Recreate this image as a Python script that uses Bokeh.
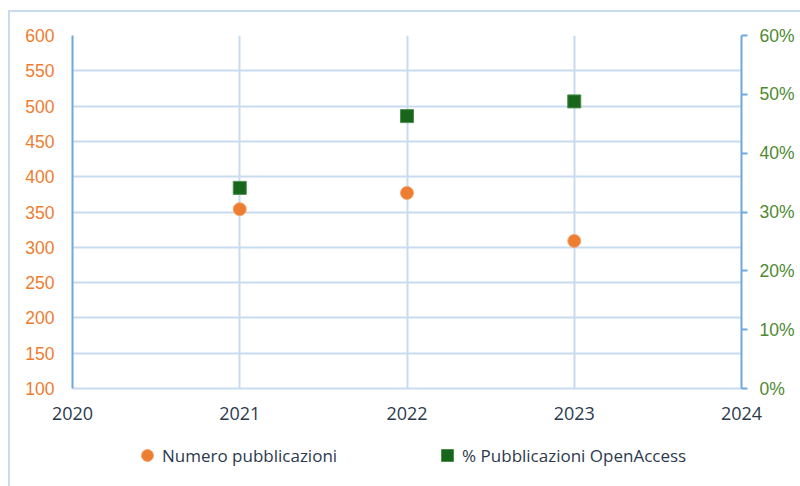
from bokeh.plotting import figure
from bokeh.layouts import column
from bokeh.models import (Range1d, LinearAxis, FixedTicker, NumeralTickFormatter,
                          Legend, LegendItem, ColumnDataSource)
from bokeh.embed import file_html
from bokeh.resources import INLINE

# ---- data ----
years = [2021, 2022, 2023]
pubblicazioni = [354, 377, 309]
pct_openaccess = [0.341, 0.463, 0.488]
x_ticks = [2020, 2021, 2022, 2023, 2024]
left_ticks = [100, 150, 200, 250, 300, 350, 400, 450, 500, 550, 600]
right_ticks = [0.0, 0.1, 0.2, 0.3, 0.4, 0.5, 0.6]
label_pubs = "Numero pubblicazioni"
label_pct = "% Pubblicazioni OpenAccess"

ORANGE = "#ed7d31"
GREEN = "#17661c"
GRID = "#c9dbef"
AXIS_BLUE = "#6fa8dc"
TEXT_DARK = "#2c3a4d"
GREEN_TEXT = "#4e8a32"

src = ColumnDataSource(dict(year=years, pubs=pubblicazioni, pct=pct_openaccess))

p = figure(width=790, height=411, output_backend="svg", toolbar_location=None,
           x_range=Range1d(x_ticks[0], x_ticks[-1]),
           y_range=Range1d(left_ticks[0], left_ticks[-1]),
           min_border_left=62, min_border_right=59, min_border_top=23, min_border_bottom=35,
           background_fill_color="white", border_fill_color="white",
           outline_line_color=None)
p.extra_y_ranges = {"pct": Range1d(right_ticks[0], right_ticks[-1])}

# grids
p.xgrid.ticker = FixedTicker(ticks=x_ticks)
p.ygrid.ticker = FixedTicker(ticks=left_ticks)
for g in (p.xgrid, p.ygrid):
    g.grid_line_color = GRID
    g.grid_line_width = 2

# bottom axis
xa = p.xaxis[0]
xa.ticker = FixedTicker(ticks=x_ticks)
xa.axis_line_color = GRID
xa.axis_line_width = 2
xa.major_tick_line_color = None
xa.minor_tick_line_color = None
xa.major_label_text_color = TEXT_DARK
xa.major_label_text_font = "Open Sans"
xa.major_label_text_font_size = "18px"
xa.major_label_standoff = 12

# left axis
ya = p.yaxis[0]
ya.ticker = FixedTicker(ticks=left_ticks)
ya.axis_line_color = AXIS_BLUE
ya.axis_line_width = 2
ya.major_tick_line_color = None
ya.minor_tick_line_color = None
ya.major_label_text_color = ORANGE
ya.major_label_text_font = "Liberation Sans"
ya.major_label_text_font_size = "17.5px"
ya.major_label_standoff = 12

# right axis
ra = LinearAxis(y_range_name="pct", ticker=FixedTicker(ticks=right_ticks),
                formatter=NumeralTickFormatter(format="0%"))
ra.axis_line_color = AXIS_BLUE
ra.axis_line_width = 2
ra.major_tick_line_color = AXIS_BLUE
ra.major_tick_line_width = 2
ra.major_tick_out = 6
ra.major_tick_in = 0
ra.minor_tick_line_color = None
ra.major_label_text_color = GREEN_TEXT
ra.major_label_text_font = "Liberation Sans"
ra.major_label_text_font_size = "17.5px"
ra.major_label_standoff = 12
p.add_layout(ra, "right")

p.scatter("year", "pubs", source=src, marker="circle", size=13,
          fill_color=ORANGE, line_color="#f5a46e", line_width=1)
p.scatter("year", "pct", source=src, y_range_name="pct", marker="square", size=13,
          fill_color=GREEN, line_color="#4a8f4c", line_width=1)

# ---- legend strip below the chart (hidden proxy renderers, legend only) ----
lg = figure(width=790, height=63, output_backend="svg", toolbar_location=None,
            x_range=Range1d(0, 1), y_range=Range1d(0, 1),
            x_axis_type=None, y_axis_type=None, min_border=0,
            background_fill_color="white", border_fill_color="white",
            outline_line_color=None)
lg.grid.visible = False
g1 = lg.scatter("year", "pubs", source=src, marker="circle", size=13,
                fill_color=ORANGE, line_color="#f5a46e", line_width=1, visible=False)
g2 = lg.scatter("year", "pct", source=src, marker="square", size=13,
                fill_color=GREEN, line_color="#4a8f4c", line_width=1, visible=False)
legend = Legend(items=[LegendItem(label=label_pubs, renderers=[g1]),
                       LegendItem(label=label_pct, renderers=[g2])],
                orientation="horizontal", location=(60, 16),
                glyph_width=30, glyph_height=30, label_standoff=0, spacing=95,
                label_text_font="Open Sans", label_text_font_size="17px",
                label_text_color=TEXT_DARK, border_line_color=None,
                background_fill_alpha=0, inactive_fill_alpha=0,
                margin=0, padding=0)
lg.add_layout(legend, "center")

layout = column(p, lg, spacing=0)
layout.styles = {"margin-left": "8px", "margin-top": "10px",
                 "border-left": "2px solid " + GRID, "border-top": "2px solid " + GRID}

open("out.html", "w").write(file_html(layout, INLINE))
